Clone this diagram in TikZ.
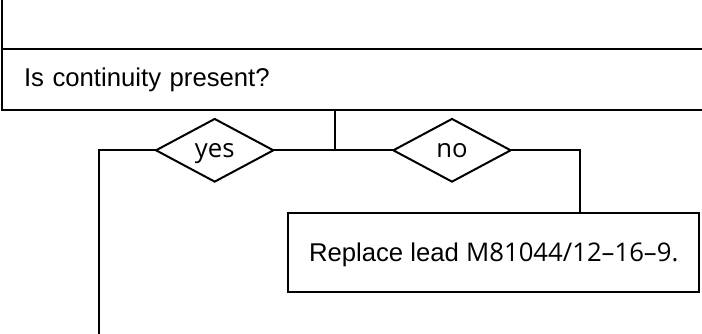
\documentclass[tikz,border=0pt]{standalone}
\usepackage{fontspec}
\setmainfont{Liberation Sans}
\newfontfamily\humanist{Open Sans}
\usetikzlibrary{shapes.geometric}

\begin{document}
\begin{tikzpicture}[
    x=1pt, y=-1pt,
    font=\fontsize{25.7}{30}\selectfont,
    line width=2pt,
    panel/.style={draw, rectangle, inner sep=0pt, outer sep=0pt},
    choice/.style={draw, diamond, inner sep=0pt, outer sep=0pt, minimum width=117.3pt,
        minimum height=62.7pt, text depth=0pt, font=\humanist\fontsize{25.7}{30}\selectfont}
]

    % Frame
    \clip (0,0) rectangle (702,334);

    % Boxes
    \node[panel, anchor=north west, text width=700pt, minimum height=61pt,
        inner xsep=22pt, align=left] (question) at (2,49) {Is continuity present?};
    \node[panel, anchor=south west, minimum width=760pt, minimum height=80pt] (header) at (question.north west) {};
    \node[panel, anchor=north west, minimum width=410.7pt, minimum height=79.6pt, text depth=0pt] (replace) at (288.3,212.7)
        {Replace lead {\humanist M81044/12–16–9.}};

    % Decisions
    \node[choice] (yes) at (214.7,150.3) {yes};
    \node[choice] (no) at (452,150.3) {no};

    % Coordinates
    \coordinate (split) at (334.7,150.3);
    \coordinate (yesdrop) at (99,340);
    \coordinate (noturn) at (580.3,150.3);

    % Connectors
    \draw (question.south -| split) -- (split);
    \draw (yes.east) -- (no.west);
    \draw (yes.west) -| (yesdrop);
    \draw (no.east) -| (noturn |- replace.north);

\end{tikzpicture}
\end{document}
